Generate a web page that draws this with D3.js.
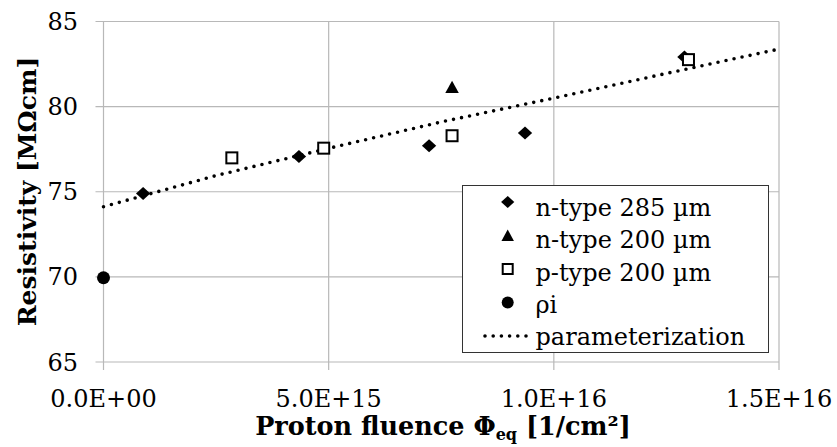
<!DOCTYPE html>
<html>
<head>
<meta charset="utf-8">
<script src="https://cdn.jsdelivr.net/npm/d3@7"></script>
<style>
  body { margin: 0; background: #fff; }
  text { font-family: "DejaVu Serif", serif; fill: #000; }
</style>
</head>
<body>
<svg id="chart" width="837" height="447"></svg>
<script>
// fluence in 1E15 /cm2, resistivity in MOhm cm
let n285Fluence = [0.88, 4.34, 7.23, 9.36, 12.9];
let n285Rho = [74.9, 77.07, 77.7, 78.45, 82.92];
let n200Fluence = [7.74];
let n200Rho = [81.14];
let p200Fluence = [2.85, 4.89, 7.74, 12.99];
let p200Rho = [76.99, 77.56, 78.29, 82.76];
let rhoIFluence = [0];
let rhoIRho = [69.95];
// parameterization curve
let paramFluence = [0, 2.5, 5, 7.5, 10, 12.5, 15];
let paramRho = [74.12, 75.95, 77.55, 79.1, 80.5, 81.95, 83.38];

let xTicks = [0, 5, 10, 15];
let xTickLabels = ["0.0E+00", "5.0E+15", "1.0E+16", "1.5E+16"];
let yTicks = [65, 70, 75, 80, 85];

let legendLabels = ["n-type 285 \u00b5m", "n-type 200 \u00b5m", "p-type 200 \u00b5m", "\u03c1i", "parameterization"];

let svg = d3.select("#chart");
let x = d3.scaleLinear().domain([0, 15]).range([103.5, 779]);
let y = d3.scaleLinear().domain([65, 85]).range([362, 21.5]);
let gridColor = "#b8b8b8";

//grid lines, with small overhang acting as ticks
svg.selectAll("line.vgrid").data(xTicks).enter().append("line")
  .attr("x1", d => x(d)).attr("x2", d => x(d))
  .attr("y1", y(85)).attr("y2", y(65) + 8)
  .attr("stroke", gridColor).attr("stroke-width", 1.2);
svg.selectAll("line.hgrid").data(yTicks).enter().append("line")
  .attr("x1", x(0) - 8).attr("x2", x(15))
  .attr("y1", d => y(d)).attr("y2", d => y(d))
  .attr("stroke", gridColor).attr("stroke-width", 1.2);

//tick labels
svg.selectAll("text.ylab").data(yTicks).enter().append("text")
  .attr("x", 78).attr("y", d => y(d) + 8.5)
  .attr("text-anchor", "end").attr("font-size", 24)
  .text(d => d);
svg.selectAll("text.xlab").data(xTicks).enter().append("text")
  .attr("x", d => x(d)).attr("y", 407)
  .attr("text-anchor", "middle").attr("font-size", 24)
  .text((d, i) => xTickLabels[i]);

//axis titles
let xt = svg.append("text")
  .attr("x", 443).attr("y", 435)
  .attr("text-anchor", "middle").attr("font-size", 25.5).attr("font-weight", "bold");
xt.append("tspan").text("Proton fluence \u03a6");
xt.append("tspan").attr("font-size", 16).attr("dy", 5).text("eq");
xt.append("tspan").attr("dy", -5).text(" [1/cm\u00b2]");

svg.append("text")
  .attr("transform", "translate(36,191.5) rotate(-90)")
  .attr("text-anchor", "middle").attr("font-size", 25).attr("font-weight", "bold")
  .text("Resistivity [M\u03a9cm]");

//parameterization
let line = d3.line().x(d => x(d[0])).y(d => y(d[1]));
svg.append("path")
  .datum(paramFluence.map((f, i) => [f, paramRho[i]]))
  .attr("d", line)
  .attr("fill", "none").attr("stroke", "#000")
  .attr("stroke-width", 3.6).attr("stroke-linecap", "round")
  .attr("stroke-dasharray", "0 8.2");

//marker shapes
function drawMarker(g, type, cx, cy, s){
  if(type == "diamond"){
    g.append("path")
      .attr("d", `M${cx - s * 0.55},${cy}L${cx},${cy - s * 0.5}L${cx + s * 0.55},${cy}L${cx},${cy + s * 0.5}Z`)
      .attr("fill", "#000");
  }
  else if(type == "triangle"){
    g.append("path")
      .attr("d", `M${cx - s * 0.52},${cy + s * 0.45}L${cx},${cy - s * 0.5}L${cx + s * 0.52},${cy + s * 0.45}Z`)
      .attr("fill", "#000");
  }
  else if(type == "square"){
    g.append("rect")
      .attr("x", cx - s / 2 + 1).attr("y", cy - s / 2 + 1)
      .attr("width", s - 2).attr("height", s - 2)
      .attr("fill", "#fff").attr("stroke", "#000").attr("stroke-width", 2);
  }
  else{
    g.append("circle").attr("cx", cx).attr("cy", cy).attr("r", s / 2).attr("fill", "#000");
  }
}

let series = [
  {type: "diamond", fl: n285Fluence, rho: n285Rho},
  {type: "triangle", fl: n200Fluence, rho: n200Rho},
  {type: "square", fl: p200Fluence, rho: p200Rho},
  {type: "circle", fl: rhoIFluence, rho: rhoIRho}
];
let marks = svg.append("g");
series.forEach(function(s){
  s.fl.forEach(function(f, i){
    drawMarker(marks, s.type, x(f), y(s.rho[i]), 13);
  });
});

//legend
let lg = svg.append("g");
lg.append("rect")
  .attr("x", 462.5).attr("y", 185.5).attr("width", 306).attr("height", 167)
  .attr("fill", "#fff").attr("stroke", "#333").attr("stroke-width", 1);
let types = ["diamond", "triangle", "square", "circle", "line"];
types.forEach(function(t, i){
  let cy = 202 + i * 33.5;
  if(t == "line"){
    lg.append("line")
      .attr("x1", 485).attr("x2", 527).attr("y1", cy).attr("y2", cy)
      .attr("stroke", "#000").attr("stroke-width", 3.6).attr("stroke-linecap", "round")
      .attr("stroke-dasharray", "0 8.2");
  }
  else{
    drawMarker(lg, t, 507.7, cy, 12);
  }
  lg.append("text")
    .attr("x", 535.5).attr("y", 216 + i * 32.3)
    .attr("font-size", 24)
    .text(legendLabels[i]);
});
</script>
</body>
</html>
